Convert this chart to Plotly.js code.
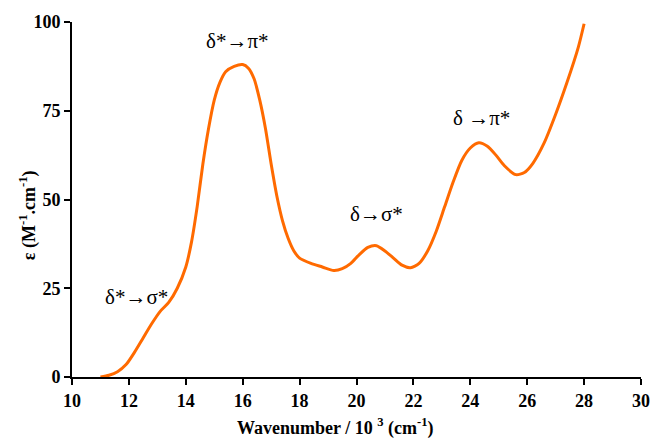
<!DOCTYPE html>
<html><head><meta charset="utf-8">
<script src="https://cdn.plot.ly/plotly-3.0.1.min.js"></script>
<style>html,body{margin:0;padding:0;background:#fff}#chart{width:654px;height:440px}</style>
</head><body><div id="chart"></div>
<script>
const wavenumber = [11.0,11.3,11.6,11.9,12.2,12.5,12.8,13.1,13.4,13.7,14.0,14.2,14.4,14.6,14.8,15.0,15.2,15.4,15.7,16.0,16.2,16.4,16.6,16.8,17.0,17.2,17.4,17.6,17.8,18.0,18.4,18.8,19.2,19.5,19.8,20.1,20.4,20.7,21.0,21.3,21.6,21.9,22.2,22.5,22.8,23.1,23.4,23.7,24.0,24.3,24.6,24.9,25.2,25.6,25.9,26.2,26.6,27.0,27.4,27.8,28.0];
const epsilon = [0,0.5,1.5,3.5,7,11,15,18.5,21,25,31,38,48,60,70,78,83,86,87.5,88,87,84,78,70,60,51,44,39,35.5,33.5,32,31,30,30.5,32,34.5,36.5,37,35.5,33.5,31.5,30.8,32,35.5,41,48,55,61,64.5,66,65,62.5,59.5,57,57.6,60.2,66,74,83,93,99.5];
const bandLabels = ["δ*→σ*","δ*→π*","δ→σ*","δ →π*"];
const bandX = [12.25,15.8,20.69,24.41];
const bandY = [22.5,94.6,46,73];
const xTitle = '<b>Wavenumber / 10 <sup>3</sup> (cm<sup>-1</sup>)</b>';
const yTitle = '<b>ε (M<sup>-1</sup>.cm<sup>-1</sup>)</b>';

const serif = "Liberation Serif, Times New Roman, serif";
const trace = {x: wavenumber, y: epsilon, type:'scatter', mode:'lines',
  line:{color:'#FF6a00', width:3, shape:'spline', smoothing:0.7}, hoverinfo:'skip'};
const annotations = bandLabels.map((t,i)=>({x:bandX[i], y:bandY[i], xref:'x', yref:'y', text:t,
  showarrow:false, font:{family:serif, size:21, color:'#000'}}));
annotations.push({xref:'paper', yref:'paper', x:0.462, y:-0.14, xanchor:'center', yanchor:'middle', text:xTitle,
  showarrow:false, font:{family:serif, size:18, color:'#000'}});
annotations.push({xref:'paper', yref:'paper', x:-0.076, y:0.455, xanchor:'center', yanchor:'middle', text:yTitle, textangle:-90,
  showarrow:false, font:{family:serif, size:18, color:'#000'}});
const axisCommon = {showline:true, linecolor:'#000', linewidth:2, ticks:'outside', ticklen:6, tickwidth:2, tickcolor:'#000',
  showgrid:false, zeroline:false, tickfont:{family:serif, size:18, color:'#000', weight:'bold'}};
const layout = {
  width:654, height:440, margin:{l:72, r:13, t:22, b:63}, paper_bgcolor:'#fff', plot_bgcolor:'#fff', showlegend:false,
  xaxis: Object.assign({}, axisCommon, {range:[10,30], tickvals:[10,12,14,16,18,20,22,24,26,28,30]}),
  yaxis: Object.assign({}, axisCommon, {range:[0,100], tickvals:[0,25,50,75,100]}),
  annotations: annotations
};
Plotly.newPlot('chart', [trace], layout, {displayModeBar:false, staticPlot:true});
</script></body></html>
